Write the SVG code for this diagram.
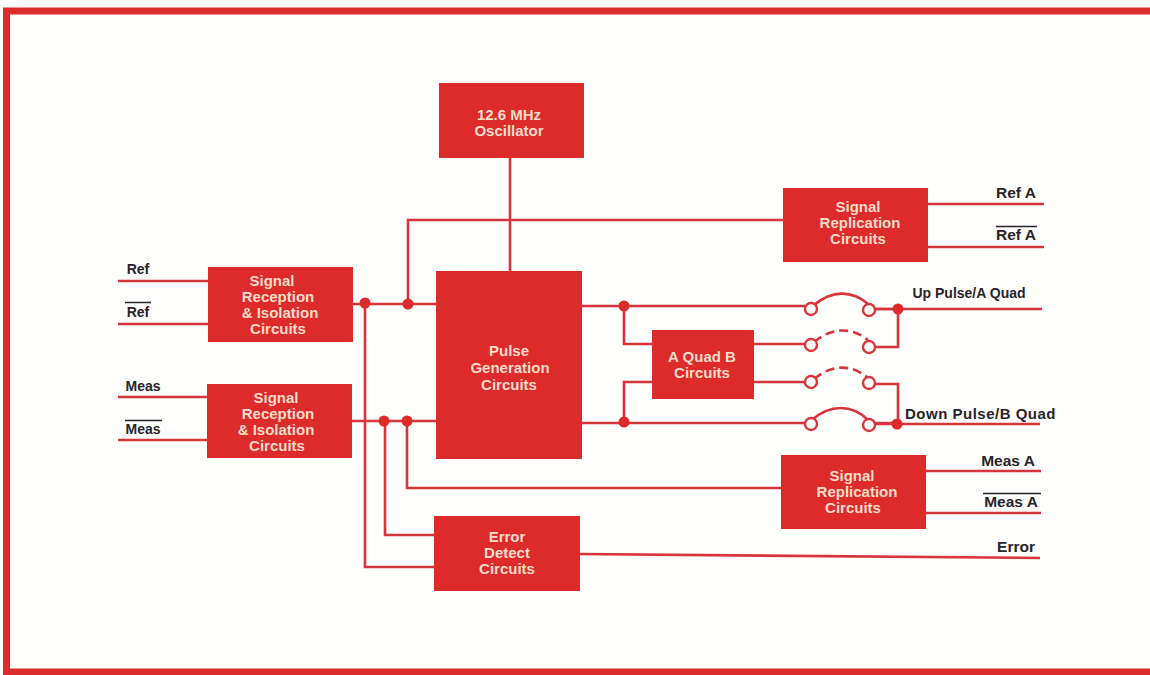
<svg xmlns="http://www.w3.org/2000/svg" width="1150" height="675" viewBox="0 0 1150 675">
<style>
.bg{fill:#fefefc}
.box{fill:#dd2a2a}
.w{fill:none;stroke:#d8343c;stroke-width:2.6}
.d{fill:#dd2a2a}
.sw{fill:#fefefc;stroke:#d8343c;stroke-width:2.4}
.dash{stroke-dasharray:9 5}
text{font-family:"Liberation Sans",Arial,sans-serif;font-size:15px;font-weight:bold;text-anchor:middle}
.t{fill:#fbdccb}
.l{fill:#2a2228;font-size:14px}
.r{font-size:15.500px}
.o{fill:none;stroke:#2a2228;stroke-width:1.5}
</style>
<rect class="bg" width="1150" height="675"/>
<rect x="6.500" y="11" width="1150" height="661" fill="none" stroke="#dd2c2c" stroke-width="7"/>
<g id="connectors">
<path class="w" d="M118 281H210M118 324H210M118 397H208M118 440H208"/>
<path class="w" d="M352 304H438M352 421H437"/>
<path class="w" d="M510 157V272"/>
<path class="w" d="M408 304V220H783"/>
<path class="w" d="M365 304V567H435"/>
<path class="w" d="M385 421V535H435"/>
<path class="w" d="M407 421V488H782"/>
<path class="w" d="M580 306H805M580 423H805"/>
<path class="w" d="M624 306V344H653M624 422V382H653"/>
<path class="w" d="M753 344H807M753 382H807"/>
<path class="w" d="M875 309H898V347H875M875 384H898V423H875"/>
<path class="w" d="M875 309H1042M875 424H1040"/>
<path class="w" d="M928 204H1044M928 247H1044M926 471H1041M926 513H1041"/>
<path class="w" d="M579 554L1040 558"/>
<path class="w" d="M814 305C832 290 852 290 868 304M812 420C830 404 852 404 868 420"/>
<path class="w dash" d="M814 342C832 327 852 327 868 340M814 379C832 364 852 364 868 378"/>
<circle class="d" cx="365" cy="303" r="5.500"/><circle class="d" cx="408" cy="304" r="5.500"/>
<circle class="d" cx="384" cy="421" r="5.500"/><circle class="d" cx="407" cy="421" r="5.500"/>
<circle class="d" cx="624" cy="306" r="5.500"/><circle class="d" cx="624" cy="422" r="5.500"/>
<circle class="d" cx="898" cy="309" r="5.500"/><circle class="d" cx="897" cy="424" r="5.500"/>
<circle class="sw" cx="811" cy="309" r="6"/><circle class="sw" cx="869" cy="310" r="6"/>
<circle class="sw" cx="811" cy="345" r="6"/><circle class="sw" cx="869" cy="347" r="6"/>
<circle class="sw" cx="811" cy="382" r="6"/><circle class="sw" cx="869" cy="383" r="6"/>
<circle class="sw" cx="811" cy="424" r="6"/><circle class="sw" cx="869" cy="425" r="6"/>
</g>
<g id="osc"><rect class="box" x="439" y="83" width="145" height="75"/><text class="t" x="509" y="120">12.6 MHz</text><text class="t" x="509" y="136">Oscillator</text></g>
<g id="rep1"><rect class="box" x="783" y="188" width="145" height="74"/><text class="t" x="858" y="212">Signal</text><text class="t" x="860" y="228">Replication</text><text class="t" x="858" y="244">Circuits</text></g>
<g id="rec1"><rect class="box" x="208" y="267" width="145" height="75"/><text class="t" x="272" y="286">Signal</text><text class="t" x="278" y="302">Reception</text><text class="t" x="280" y="318">&amp; Isolation</text><text class="t" x="278" y="334">Circuits</text></g>
<g id="rec2"><rect class="box" x="207" y="384" width="145" height="74"/><text class="t" x="276" y="403">Signal</text><text class="t" x="278" y="419">Reception</text><text class="t" x="276" y="435">&amp; Isolation</text><text class="t" x="277" y="451">Circuits</text></g>
<g id="pulse"><rect class="box" x="436" y="271" width="146" height="188"/><text class="t" x="509" y="356">Pulse</text><text class="t" x="510" y="373">Generation</text><text class="t" x="509" y="390">Circuits</text></g>
<g id="aquad"><rect class="box" x="652" y="330" width="102" height="69"/><text class="t" x="702" y="362">A Quad B</text><text class="t" x="702" y="378">Circuits</text></g>
<g id="rep2"><rect class="box" x="781" y="455" width="145" height="74"/><text class="t" x="852" y="481">Signal</text><text class="t" x="857" y="497">Replication</text><text class="t" x="853" y="513">Circuits</text></g>
<g id="err"><rect class="box" x="434" y="516" width="146" height="75"/><text class="t" x="507" y="542">Error</text><text class="t" x="507" y="558">Detect</text><text class="t" x="507" y="574">Circuits</text></g>
<g id="labels">
<text class="l" x="138" y="274">Ref</text>
<text class="l" x="138" y="317">Ref</text><path class="o" d="M125 302.500H151"/>
<text class="l" x="143" y="391">Meas</text>
<text class="l" x="143" y="434">Meas</text><path class="o" d="M125 420.500H162"/>
<text class="l r" x="1016" y="198">Ref A</text>
<text class="l r" x="1016" y="240">Ref A</text><path class="o" d="M996 226.500H1037"/>
<text class="l" x="969" y="298">Up Pulse/A Quad</text>
<text class="l" x="980.500" y="419" style="letter-spacing:.5px;font-size:15px">Down Pulse/B Quad</text>
<text class="l r" x="1008" y="466">Meas A</text>
<text class="l r" x="1011" y="507">Meas A</text><path class="o" d="M983 493.500H1041"/>
<text class="l" x="1016" y="552" style="font-size:15.500px">Error</text>
</g>
</svg>
